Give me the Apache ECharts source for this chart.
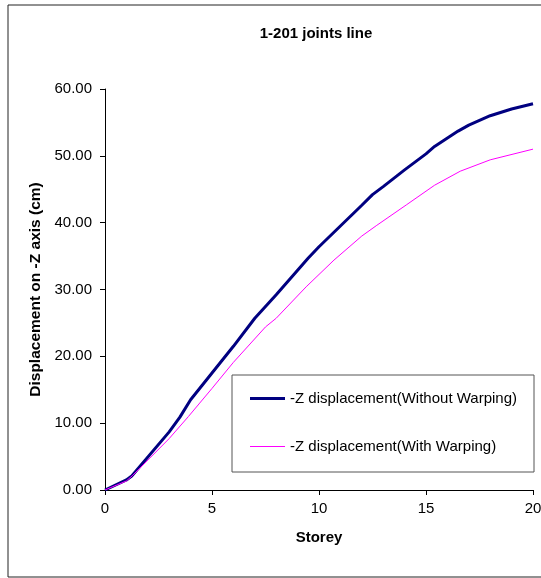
<!DOCTYPE html>
<html>
<head>
<meta charset="utf-8">
<script src="https://cdn.jsdelivr.net/npm/echarts@6/dist/echarts.min.js"></script>
<style>
  html, body { margin: 0; padding: 0; background: #fff; }
  #chart { width: 541px; height: 578px; }
</style>
</head>
<body>
<div id="chart"></div>
<script>
// data
var seriesNames = ['-Z displacement(Without Warping)', '-Z displacement(With Warping)'];
var storeyA = [0, 1, 1.25, 3, 3.5, 4, 5, 6, 7, 8, 9.5, 10, 11, 12, 12.5, 13, 14, 15, 15.4, 16.5, 17, 18, 19, 20];
var dispA = [0, 1.5, 2.1, 8.7, 10.9, 13.5, 17.5, 21.5, 25.7, 29.2, 34.7, 36.4, 39.5, 42.6, 44.2, 45.4, 47.9, 50.3, 51.4, 53.7, 54.6, 56.0, 57.0, 57.8];
var storeyB = [0, 1, 1.3, 3, 3.9, 5, 6, 7.5, 8, 9.4, 10.7, 12, 12.7, 14.1, 15.4, 16.6, 18, 20];
var dispB = [0, 1.35, 2.2, 7.7, 11.0, 15.2, 19.1, 24.4, 25.7, 30.4, 34.4, 38.0, 39.6, 42.7, 45.6, 47.7, 49.4, 51.0];

function pairs(xs, ys) {
    return xs.map(function (x, i) { return [x, ys[i]]; });
}

var chart = echarts.init(document.getElementById('chart'));
var font = 'Liberation Sans, Arial, sans-serif';

var option = {
    animation: false,
    backgroundColor: '#fff',
    title: {
        text: '1-201 joints line',
        left: 311,
        top: 21,
        textAlign: 'center',
        textStyle: { fontFamily: font, fontSize: 15, fontWeight: 'bold', color: '#000' }
    },
    graphic: [{
        type: 'rect',
        shape: { x: 8, y: 5, width: 545, height: 572 },
        style: { fill: 'none', stroke: '#222', lineWidth: 1 },
        silent: true
    }],
    grid: { left: 105, right: 8, top: 89, bottom: 88, outerBoundsMode: 'none' },
    legend: {
        orient: 'vertical',
        left: 232,
        top: 375,
        padding: [16, 17, 18, 18],
        itemGap: 33,
        itemWidth: 35,
        itemHeight: 14,
        borderColor: '#555',
        borderWidth: 1,
        backgroundColor: '#fff',
        textStyle: { fontFamily: font, fontSize: 15, color: '#000' },
        data: [
            { name: seriesNames[0], icon: 'path://M0,0 H35 V3 H0 Z' },
            { name: seriesNames[1], icon: 'path://M0,0 H35 V1 H0 Z' }
        ]
    },
    xAxis: {
        type: 'value',
        min: 0,
        max: 20,
        interval: 5,
        name: 'Storey',
        nameLocation: 'middle',
        nameGap: 40,
        nameTextStyle: { fontFamily: font, fontSize: 15, fontWeight: 'bold', color: '#000' },
        axisLine: { lineStyle: { color: '#000', width: 1 } },
        axisTick: { show: true, inside: false, length: 5, lineStyle: { color: '#000' } },
        axisLabel: { fontFamily: font, fontSize: 15, color: '#000', margin: 11 },
        splitLine: { show: false }
    },
    yAxis: {
        type: 'value',
        min: 0,
        max: 60,
        interval: 10,
        name: 'Displacement on -Z axis (cm)',
        nameLocation: 'middle',
        nameGap: 58,
        nameTextStyle: { fontFamily: font, fontSize: 15.5, fontWeight: 'bold', color: '#000' },
        axisLine: { show: true, lineStyle: { color: '#000', width: 1 } },
        axisTick: { show: true, inside: false, length: 5, lineStyle: { color: '#000' } },
        axisLabel: {
            fontFamily: font, fontSize: 15, color: '#000', margin: 13,
            formatter: function (v) { return v.toFixed(2); }
        },
        splitLine: { show: false }
    },
    series: [
        {
            name: seriesNames[0],
            type: 'line',
            symbol: 'none',
            lineStyle: { color: '#000080', width: 3 },
            itemStyle: { color: '#000080' },
            data: pairs(storeyA, dispA)
        },
        {
            name: seriesNames[1],
            type: 'line',
            symbol: 'none',
            lineStyle: { color: '#ff00ff', width: 1 },
            itemStyle: { color: '#ff00ff' },
            data: pairs(storeyB, dispB)
        }
    ]
};
chart.setOption(option);
window.onresize = function () {
    chart.resize();
};
</script>
</body>
</html>
